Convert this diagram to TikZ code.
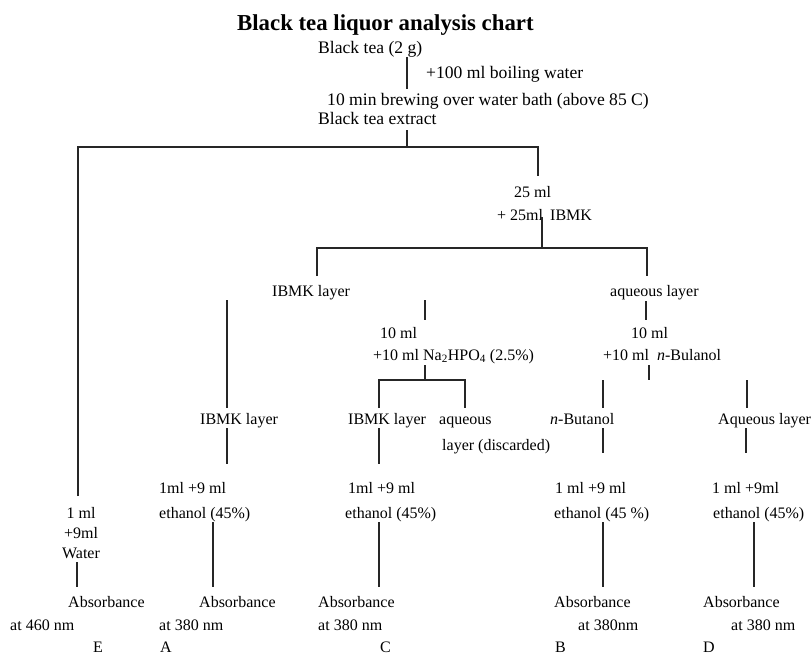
\documentclass[tikz,border=0pt]{standalone}
\usepackage{fontspec}
\setmainfont{Liberation Serif}
\newcommand{\chartbody}{\fontsize{16}{19}\selectfont}
\newcommand{\charttop}{\fontsize{17.6}{21}\selectfont}
\newcommand{\charttitle}{\fontsize{22.8}{27}\selectfont\bfseries}
\tikzset{
  txt/.style={anchor=base west, inner sep=0pt, font=\chartbody},
  toptxt/.style={txt, font=\charttop},
  stem/.style={line width=1.3pt, draw=black!85}
}
\begin{document}
\begin{tikzpicture}[x=1pt, y=-1pt]
	\useasboundingbox (0,0) rectangle (811,654);
	% brewing
	\node[txt, font=\charttitle] (title) at (237,30) {Black tea liquor analysis chart};
	\node[toptxt] (tea) at (318,53) {Black tea (2 g)};
	\node[toptxt] (boil) at (426,78) {+100 ml boiling water};
	\node[toptxt] (brew) at (327,105) {10 min brewing over water bath (above 85 C)};
	\node[toptxt] (extract) at (318,124) {Black tea extract};
	\draw[stem] (407,57) coordinate (t1) -- (407,89) coordinate (t2);
	\draw[stem] (407,130) coordinate (x1) -- (407,147) coordinate (x2);
	\draw[stem] (78,496) coordinate (e1) |- (538,147) coordinate (p1) -- (538,176) coordinate (p2);
	% IBMK partition
	\node[txt] (vol25) at (514,197) {25 ml};
	\node[txt] (add25) at (497,220) {+ 25ml};
	\node[txt] (ibmk) at (550,220) {IBMK};
	\draw[stem] (542,217) coordinate (m1) -- (542,248) coordinate (m2);
	\draw[stem] (317,276) coordinate (b1) |- (647,248) coordinate (b2) -- (647,276) coordinate (b3);
	\node[txt] (ibmkL) at (272,296) {IBMK layer};
	\node[txt] (aqL) at (610,296) {aqueous layer};
	% Na2HPO4 wash
	\draw[stem] (425,300) coordinate (n1) -- (425,320) coordinate (n2);
	\node[txt] (vol10a) at (380,338) {10 ml};
	\node[txt] (addNa) at (373,360) {+10 ml Na\textsubscript{2}HPO\textsubscript{4} (2.5\%)};
	\draw[stem] (425,365) coordinate (n3) -- (425,380) coordinate (n4);
	\draw[stem] (379,408) coordinate (c1) |- (465,380) coordinate (c2) -- (465,408) coordinate (c3);
	\node[txt] (ibmkC) at (348,424) {IBMK layer};
	\node[txt] (aqC) at (439,424) {aqueous};
	\node[txt] (disc) at (442,450) {layer (discarded)};
	\draw[stem] (379,428) coordinate (c4) -- (379,464) coordinate (c5);
	% n-butanol partition
	\draw[stem] (646,301) coordinate (q1) -- (646,320) coordinate (q2);
	\node[txt] (vol10b) at (631,338) {10 ml};
	\node[txt] (addBu) at (603,360) {+10 ml \ \textit{n}-Bulanol};
	\draw[stem] (649,365) coordinate (q3) -- (649,380) coordinate (q4);
	\draw[stem] (603,380) coordinate (r1) -- (603,408) coordinate (r2);
	\draw[stem] (747,380) coordinate (s1) -- (747,408) coordinate (s2);
	\node[txt] (buB) at (550,424) {\textit{n}-Butanol};
	\node[txt] (aqD) at (718,424) {Aqueous layer};
	\draw[stem] (603,428) coordinate (r3) -- (603,453) coordinate (r4);
	\draw[stem] (746,428) coordinate (s3) -- (746,453) coordinate (s4);
	% IBMK layer, branch A
	\draw[stem] (227,300) coordinate (a1) -- (227,408) coordinate (a2);
	\node[txt] (ibmkA) at (200,424) {IBMK layer};
	\draw[stem] (227,428) coordinate (a3) -- (227,464) coordinate (a4);
	% dilutions
	\node[txt] (dilA) at (159,493) {1ml +9 ml};
	\node[txt] (etA) at (159,518) {ethanol (45\%)};
	\node[txt] (dilC) at (348,493) {1ml +9 ml};
	\node[txt] (etC) at (345,518) {ethanol (45\%)};
	\node[txt] (dilB) at (555,493) {1 ml +9 ml};
	\node[txt] (etB) at (554,518) {ethanol (45 \%)};
	\node[txt] (dilD) at (712,493) {1 ml +9ml};
	\node[txt] (etD) at (713,518) {ethanol (45\%)};
	\node[txt, anchor=base] (dilE) at (81,518) {1 ml};
	\node[txt, anchor=base] (addE) at (81,538) {+9ml};
	\node[txt, anchor=base] (watE) at (81,558) {Water};
	\draw[stem] (77,562) coordinate (e2) -- (77,587) coordinate (e3);
	\foreach \x in {213,379,603,754}{\draw[stem] (\x,522) coordinate (u\x) -- (\x,587) coordinate (v\x);}
	% absorbance readings
	\node[txt] (absE) at (68,607) {Absorbance};
	\node[txt] (nmE) at (10,630) {at 460 nm};
	\node[txt] (absA) at (199,607) {Absorbance};
	\node[txt] (nmA) at (159,630) {at 380 nm};
	\node[txt] (absC) at (318,607) {Absorbance};
	\node[txt] (nmC) at (318,630) {at 380 nm};
	\node[txt] (absB) at (554,607) {Absorbance};
	\node[txt] (nmB) at (578,630) {at 380nm};
	\node[txt] (absD) at (703,607) {Absorbance};
	\node[txt] (nmD) at (731,630) {at 380 nm};
	\node[txt] (labE) at (93,652) {E};
	\node[txt] (labA) at (160,652) {A};
	\node[txt] (labC) at (380,652) {C};
	\node[txt] (labB) at (555,652) {B};
	\node[txt] (labD) at (703,652) {D};
\end{tikzpicture}
\end{document}
